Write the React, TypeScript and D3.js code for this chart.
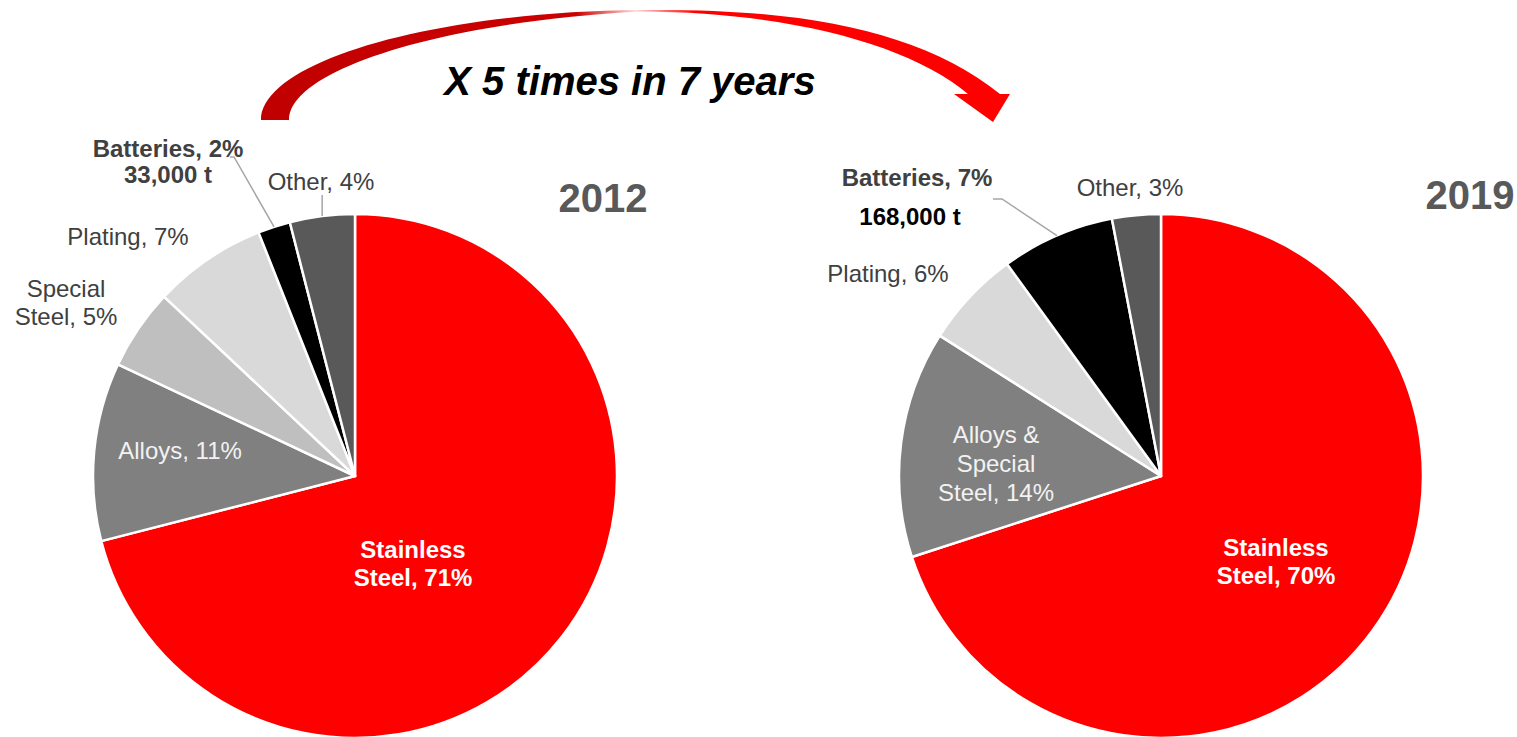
import React from "react";
import * as d3 from "d3";

const categories2012 = ["Stainless Steel", "Alloys", "Special Steel", "Plating", "Batteries", "Other"];
const values2012 = [71, 11, 5, 7, 2, 4];
const categories2019 = ["Stainless Steel", "Alloys & Special Steel", "Plating", "Batteries", "Other"];
const values2019 = [70, 14, 6, 7, 3];
const colors2012 = ["#FF0000", "#808080", "#BFBFBF", "#D9D9D9", "#000000", "#595959"];
const colors2019 = ["#FF0000", "#808080", "#D9D9D9", "#000000", "#595959"];
const years = ["2012", "2019"];
const batteryTonnes = ["33,000 t", "168,000 t"];
const headline = "X 5 times in 7 years";

type Lbl = { lines: string[]; dx: number; dy: number; bold?: boolean; fill: string; lh?: number };

// label layout (offsets from pie centre to first baseline)
const labels2012: Lbl[] = [
  { lines: ["Stainless", "Steel, " + values2012[0] + "%"], dx: 58, dy: 82, bold: true, fill: "#FFFFFF" },
  { lines: ["Alloys, " + values2012[1] + "%"], dx: -175, dy: -17, fill: "#F2F2F2" },
  { lines: ["Special", "Steel, " + values2012[2] + "%"], dx: -289, dy: -179, fill: "#404040" },
  { lines: ["Plating, " + values2012[3] + "%"], dx: -227, dy: -231, fill: "#404040" },
  { lines: ["Batteries, " + values2012[4] + "%", batteryTonnes[0]], dx: -187, dy: -319, bold: true, fill: "#404040", lh: 26 },
  { lines: ["Other, " + values2012[5] + "%"], dx: -34, dy: -286, fill: "#404040" },
];
const labels2019: Lbl[] = [
  { lines: ["Stainless", "Steel, " + values2019[0] + "%"], dx: 115, dy: 80, bold: true, fill: "#FFFFFF" },
  { lines: ["Alloys &", "Special", "Steel, " + values2019[1] + "%"], dx: -165, dy: -33, fill: "#F2F2F2", lh: 29 },
  { lines: ["Plating, " + values2019[2] + "%"], dx: -273, dy: -194, fill: "#404040" },
  { lines: ["Batteries, " + values2019[3] + "%"], dx: -244, dy: -290, bold: true, fill: "#404040" },
  { lines: ["Other, " + values2019[4] + "%"], dx: -31, dy: -280, fill: "#404040" },
];

const R = 262;
const FONT = "'Liberation Sans', Arial, Helvetica, sans-serif";

function Pie({ cx, cy, values, colors, labels }: { cx: number; cy: number; values: number[]; colors: string[]; labels: Lbl[] }) {
  const arcs = d3.pie<number>().sort(null).value((d) => d)(values);
  const arc = d3.arc<d3.PieArcDatum<number>>().innerRadius(0).outerRadius(R);
  return (
    <g transform={`translate(${cx},${cy})`}>
      {arcs.map((a, i) => (
        <path key={i} d={arc(a) || ""} fill={colors[i]} stroke="#FFFFFF" strokeWidth={2.5} strokeLinejoin="round" />
      ))}
      {labels.map((l, i) => (
        <text key={"t" + i} textAnchor="middle" fontFamily={FONT} fontSize={24} fontWeight={l.bold ? "bold" : "normal"} fill={l.fill}>
          {l.lines.map((s, j) => (
            <tspan key={j} x={l.dx} y={l.dy + j * (l.lh || 28)}>{s}</tspan>
          ))}
        </text>
      ))}
    </g>
  );
}

function midPoint(values: number[], idx: number, cx: number, cy: number) {
  const arcs = d3.pie<number>().sort(null).value((d) => d)(values);
  const a = (arcs[idx].startAngle + arcs[idx].endAngle) / 2;
  return [cx + R * Math.sin(a), cy - R * Math.cos(a)];
}

export default function App() {
  const c1 = [355, 476];
  const c2 = [1161, 476];
  const bat1 = midPoint(values2012, 4, c1[0], c1[1]);
  const oth1 = midPoint(values2012, 5, c1[0], c1[1]);
  const bat2 = midPoint(values2019, 3, c2[0], c2[1]);

  const arrow =
    "M261,120 C261,62 430,12 640,10 C800,8 920,30 1000,94 L1010,94 L993,122 L954,94 L968,94 " +
    "C910,45 790,12 640,11.5 C440,22 289,70 289,120 Z";

  return (
    <svg width={1517} height={737} style={{ position: "absolute", left: 0, top: 0, background: "#fff" }}>
      <defs>
        <linearGradient id="arrowGrad" gradientUnits="userSpaceOnUse" x1={261} y1={0} x2={1010} y2={0}>
          <stop offset="0" stopColor="#C00000" />
          <stop offset="0.42" stopColor="#CC0000" />
          <stop offset="0.5" stopColor="#FFD8D8" />
          <stop offset="0.58" stopColor="#FF0000" />
          <stop offset="1" stopColor="#FF0000" />
        </linearGradient>
      </defs>
      <path d={arrow} fill="url(#arrowGrad)" />
      <text x={630} y={95} textAnchor="middle" fontFamily={FONT} fontSize={40} fontWeight="bold" fontStyle="italic" fill="#000">
        {headline}
      </text>

      <Pie cx={c1[0]} cy={c1[1]} values={values2012} colors={colors2012} labels={labels2012} />
      <Pie cx={c2[0]} cy={c2[1]} values={values2019} colors={colors2019} labels={labels2019} />

      {/* leader lines */}
      <polyline points={`230,157 234,157 ${bat1[0]},${bat1[1]}`} fill="none" stroke="#A6A6A6" strokeWidth={1.5} />
      <polyline points={`${oth1[0]},195 ${oth1[0]},${oth1[1]}`} fill="none" stroke="#A6A6A6" strokeWidth={1.5} />
      <polyline points={`993,199 1002,199 ${bat2[0]},${bat2[1]}`} fill="none" stroke="#A6A6A6" strokeWidth={1.5} />

      <text x={910} y={225} textAnchor="middle" fontFamily={FONT} fontSize={24} fontWeight="bold" fill="#000">
        {batteryTonnes[1]}
      </text>

      <text x={603} y={212} textAnchor="middle" fontFamily={FONT} fontSize={40} fontWeight="bold" fill="#595959">
        {years[0]}
      </text>
      <text x={1470} y={209} textAnchor="middle" fontFamily={FONT} fontSize={40} fontWeight="bold" fill="#595959">
        {years[1]}
      </text>
    </svg>
  );
}
